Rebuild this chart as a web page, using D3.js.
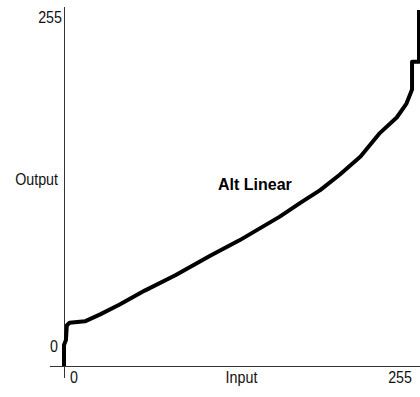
<!DOCTYPE html>
<meta charset="utf-8">
<style>
  body { margin: 0; background: #fff; }
  .lbl { font: 17px "Liberation Sans", Arial, sans-serif; fill: #111; }
  .title { font: bold 16px "Liberation Sans", Arial, sans-serif; fill: #000; }
</style>
<svg width="420" height="397"></svg>
<script src="https://cdnjs.cloudflare.com/ajax/libs/d3/7.8.5/d3.min.js"></script>
<script>
// curve samples
var inputValues  = [0, 0, 1.4, 2, 4, 15, 26, 40, 58, 80, 105, 126, 155, 170, 184, 198, 213, 227, 239, 246, 250, 250, 250, 255, 255];
var outputValues = [0, 15, 18.6, 29, 31, 32, 37, 44, 54, 65, 79, 90, 107, 117, 126, 137, 150, 167, 178, 188, 198, 205, 218, 218, 255];
var tickLabels = ["0", "255"];
var curveName = "Alt Linear";

var svg = d3.select("svg");

var x = d3.scaleLinear().domain([0, 255]).range([64, 419]);
var y = d3.scaleLinear().domain([0, 255]).range([366, 10]);

//axes
svg.append("line")
    .attr("x1", x(0)).attr("x2", x(0))
    .attr("y1", 7).attr("y2", 378)
    .attr("stroke", "#333").attr("stroke-width", 1).attr("shape-rendering", "crispEdges");
svg.append("line")
    .attr("x1", 50).attr("x2", 420)
    .attr("y1", y(0)).attr("y2", y(0))
    .attr("stroke", "#333").attr("stroke-width", 1).attr("shape-rendering", "crispEdges");

// narrow labels, old windows look
function label(px, py, anchor, txt) {
  svg.append("text").attr("class", "lbl")
      .attr("transform", "translate(" + px + "," + py + ") scale(0.84,1)")
      .attr("text-anchor", anchor)
      .text(txt);
}

label(x(0) - 2, y(255) + 13, "end", tickLabels[1]);
label(x(0) - 6, y(0) - 14, "end", tickLabels[0]);
label(x(0) - 6, 185, "end", "Output");

label(x(0) + 6, 383, "start", tickLabels[0]);
label(x(127.5), 383, "middle", "Input");
label(x(255) - 7, 383, "end", tickLabels[1]);

// the curve
var pts = inputValues.map(function(d, i) { return [d, outputValues[i]]; });
var line = d3.line()
    .x(function(d) { return x(d[0]); })
    .y(function(d) { return y(d[1]); });

svg.append("path")
    .datum(pts)
    .attr("d", line)
    .attr("fill", "none")
    .attr("stroke", "#000")
    .attr("stroke-width", 4)
    .attr("stroke-linejoin", "round");

svg.append("text").attr("class", "title")
    .attr("x", 218).attr("y", 190)
    .text(curveName);
</script>
